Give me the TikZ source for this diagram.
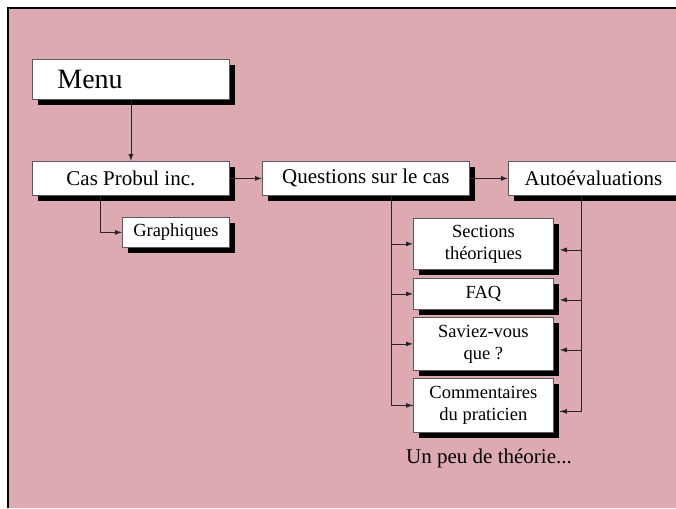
\documentclass[tikz,border=0pt]{standalone}
\usepackage{fontspec}
\setmainfont{Liberation Serif}
\usetikzlibrary{arrows.meta,shadows}
\definecolor{FondRose}{RGB}{222,170,178}
\definecolor{BordBoite}{RGB}{90,90,90}
\tikzset{
    boite/.style={draw=BordBoite, line width=0.8pt, fill=white, anchor=north west,
        inner sep=0pt, align=center,
        drop shadow={shadow xshift=6pt, shadow yshift=-6pt, fill=black, opacity=1}},
    grande/.style={font=\fontsize{21}{25}\selectfont},
    petite/.style={font=\fontsize{18.5}{22}\selectfont},
    lien/.style={draw=black!85, line width=0.8pt, -{Latex[length=7pt,width=5pt]}}
}

\begin{document}
\begin{tikzpicture}[x=1pt, y=-1pt]

    \useasboundingbox (0, 0) rectangle (676, 508);
    \fill[white] (0, 0) rectangle (676, 508);
    \fill[FondRose] (8, 8) rectangle (676, 508);
    \draw[line width=2pt] (8, 508) -- (8, 8) -- (676, 8);

    % Boites principales.
    \node[boite, minimum width=197pt, minimum height=40pt, text width=147pt,
        inner xsep=25pt, align=left, font=\fontsize{28}{32}\selectfont]
        (menu) at (32, 59) {Menu};
    \node[boite, grande, minimum width=197pt, minimum height=34pt]
        (cas) at (32, 161) {Cas Probul inc.};
    \node[boite, petite, minimum width=107pt, minimum height=30pt]
        (graph) at (122, 217) {Graphiques};
    \node[boite, grande, minimum width=207pt, minimum height=34pt]
        (quest) at (262, 161) {Questions sur le cas};
    \node[boite, grande, minimum width=170pt, minimum height=34pt]
        (auto) at (508, 161) {Autoévaluations};

    % Un peu de theorie.
    \node[boite, petite, minimum width=140pt, minimum height=51pt]
        (sect) at (413, 218) {Sections\\théoriques};
    \node[boite, petite, minimum width=140pt, minimum height=31pt]
        (faq) at (413, 278) {FAQ};
    \node[boite, petite, minimum width=140pt, minimum height=53pt]
        (saviez) at (413, 317) {Saviez-vous\\que ?};
    \node[boite, petite, minimum width=140pt, minimum height=54pt]
        (comm) at (413, 378) {Commentaires\\du praticien};
    \node[grande, anchor=base] (theorie) at (489, 463) {Un peu de théorie...};

    \draw[lien] (menu.south) -- (cas.north);
    \draw[lien] ([xshift=68pt]cas.south west) |- (graph.west);
    \draw[lien] (cas.east) -- (quest.west);
    \draw[lien] (quest.east) -- (auto.west);

    \coordinate (q) at ([xshift=129pt]quest.south west);
    \coordinate (a) at ([xshift=73pt]auto.south west);
    \coordinate (comm-e) at ([shift={(6pt,-6pt)}]comm.east);
    \draw[line width=0.8pt, black!85] (q) |- (comm.west);
    \draw[line width=0.8pt, black!85] (a) |- (comm-e);
    \foreach \b in {sect, faq, saviez, comm} {
        \coordinate (\b-e) at ([shift={(6pt,-6pt)}]\b.east);
        \draw[lien] (q |- \b.west) -- (\b.west);
        \draw[lien] (a |- \b-e) -- (\b-e);
    }
\end{tikzpicture}
\end{document}
